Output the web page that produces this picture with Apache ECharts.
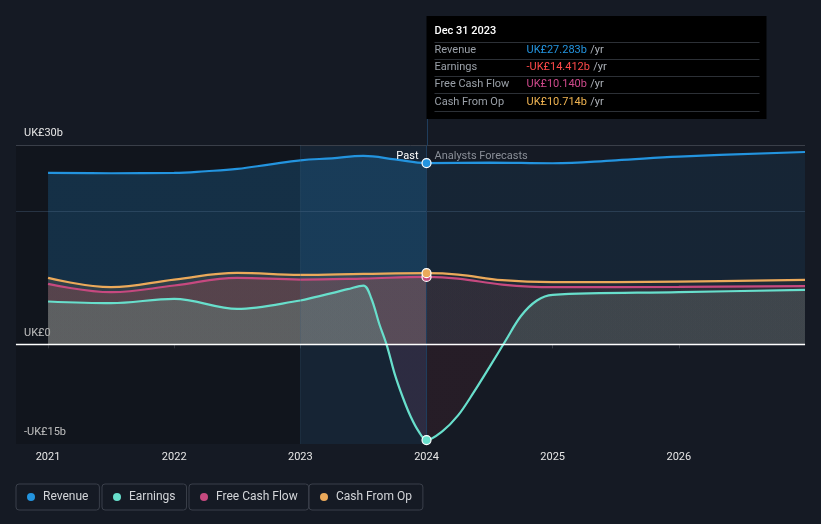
<!DOCTYPE html>
<html><head><meta charset="utf-8">
<script src="https://cdn.jsdelivr.net/npm/echarts@6/dist/echarts.min.js"></script>
<style>html,body{margin:0;padding:0;background:#151a24;}#c{width:821px;height:524px;}</style>
</head><body><div id="c"></div>
<script>
const xTickYears = [2021, 2022, 2023, 2024, 2025, 2026];
const yTickValues = [-15, 0, 30];
const yTickLabels = {'-15': '-UK£15b', '0': 'UK£0', '30': 'UK£30b'};
const gridLineValues = [30, 20];
const seriesNames = ['Revenue', 'Earnings', 'Free Cash Flow', 'Cash From Op'];

const revenue = [[2021,25.8],[2021.5,25.75],[2022,25.8],[2022.25,26.05],[2022.5,26.4],[2022.75,27.05],[2023,27.7],[2023.25,28.0],[2023.5,28.35],[2023.75,27.85],[2024,27.283],[2024.5,27.35],[2025,27.25],[2025.5,27.7],[2026,28.25],[2027,28.95]];
const earnings = [[2021,6.45],[2021.5,6.2],[2022,6.85],[2022.5,5.35],[2023,6.6],[2023.125,7.15],[2023.25,7.7],[2023.375,8.3],[2023.5,8.85],[2023.5625,6.9],[2023.625,3.1],[2023.6875,-0.3],[2023.75,-4.6],[2023.8125,-8.0],[2023.875,-10.9],[2023.9375,-13.1],[2024,-14.412],[2024.125,-13.1],[2024.25,-10.7],[2024.375,-7.2],[2024.5,-3.4],[2024.625,0.5],[2024.75,4.3],[2024.875,6.6],[2025,7.45],[2026,7.85],[2027,8.2]];
const freeCashFlow = [[2021,9.1],[2021.5,7.85],[2022,8.85],[2022.5,10.0],[2023,9.75],[2023.5,9.9],[2024,10.14],[2024.25,9.9],[2024.6,9.0],[2025,8.6],[2026,8.65],[2027,8.75]];
const cashFromOp = [[2021,10.0],[2021.5,8.6],[2022,9.75],[2022.5,10.75],[2023,10.45],[2023.5,10.6],[2024,10.714],[2024.25,10.5],[2024.6,9.65],[2025,9.35],[2026,9.45],[2027,9.7]];

const pastBandStart = 2023;
const presentYear = 2024;
const tooltipTitle = 'Dec 31 2023';
const tooltipLabels = ['Revenue', 'Earnings', 'Free Cash Flow', 'Cash From Op'];
const tooltipValues = ['UK£27.283b', '-UK£14.412b', 'UK£10.140b', 'UK£10.714b'];

const C = {rev: '#2394df', earn: '#68dfcc', fcf: '#c6497f', cfo: '#eba95a'};
const FONT = 'Roboto, "Noto Sans", sans-serif';

function hGrad(data, past, fut) {
  const x0 = data[0][0], x1 = data[data.length - 1][0];
  const f = (presentYear - x0) / (x1 - x0);
  return new echarts.graphic.LinearGradient(0, 0, 1, 0, [
    {offset: 0, color: past}, {offset: f, color: past}, {offset: f, color: fut}, {offset: 1, color: fut}]);
}
function vGrad(data, pos, neg) {
  const ys = data.map(d => d[1]);
  const mx = Math.max(0, ...ys), mn = Math.min(0, ...ys);
  const f = mx / (mx - mn);
  return new echarts.graphic.LinearGradient(0, 0, 0, 1, [
    {offset: 0, color: pos}, {offset: f, color: pos}, {offset: f, color: neg}, {offset: 1, color: neg}]);
}
function valAt(data, x) { const p = data.find(d => d[0] === x); return p ? p[1] : null; }
function markerItem(data, color) {
  return {coord: [presentYear, valAt(data, presentYear)], itemStyle: {color: color, borderColor: '#ffffff', borderWidth: 1.2}};
}

const earnPast = earnings.filter(d => d[0] <= presentYear);
const earnFut = earnings.filter(d => d[0] >= presentYear);

const chart = echarts.init(document.getElementById('c'), null, {renderer: 'canvas'});
const lineBase = {type: 'line', smooth: 0.4, showSymbol: false, symbol: 'none', animation: false, z: 2};
const earnSmooth = 0.35;

chart.setOption({
  backgroundColor: '#151a24',
  animation: false,
  grid: {left: 16, right: 16, top: 145, bottom: 80, containLabel: false},
  xAxis: {
    type: 'value', min: 2020.746, max: 2027,
    axisLine: {show: true, lineStyle: {color: '#3b404a', width: 1}},
    axisTick: {show: true, length: 4, lineStyle: {color: '#3b404a'}, customValues: xTickYears},
    axisLabel: {color: '#e6e6e6', fontSize: 11, fontFamily: FONT, margin: 8, customValues: xTickYears, formatter: v => String(v)},
    splitLine: {show: false}
  },
  yAxis: {
    type: 'value', min: -15, max: 30,
    axisLine: {show: false}, axisTick: {show: false}, splitLine: {show: false},
    axisLabel: {inside: true, margin: 8, color: '#e6e6e6', fontSize: 11, fontFamily: FONT,
      verticalAlign: 'bottom', padding: [0, 0, 6, 0], customValues: yTickValues,
      formatter: v => yTickLabels[String(v)]}
  },
  legend: seriesNames.map((n, i) => ({
    data: [n], left: [16, 102, 189, 309][i], top: 484, icon: 'circle', itemWidth: 8, itemHeight: 8,
    padding: [7, 11, 7, 11], borderColor: '#3a3f4a', borderWidth: 1, borderRadius: 3,
    selectedMode: false,
    textStyle: {color: '#d3d5d9', fontSize: 12, fontFamily: FONT, padding: [0, 0, 0, 3]}
  })),
  series: [
    {type: 'line', data: [], z: 1, silent: true,
      markArea: {silent: true, data: [
        [{xAxis: 2020.746, itemStyle: {color: 'rgba(0,0,0,0.18)'}}, {xAxis: pastBandStart}],
        [{xAxis: pastBandStart, itemStyle: {color: 'rgba(35,148,223,0.09)'}}, {xAxis: presentYear}]
      ]},
      markLine: {silent: true, symbol: 'none', label: {show: false}, data: [
        ...gridLineValues.map(v => ({yAxis: v, lineStyle: {color: v === 30 ? '#3a3f49' : 'rgba(80,110,140,0.35)', width: 1, type: 'solid'}})),
        {xAxis: pastBandStart, lineStyle: {color: 'rgba(60,90,120,0.25)', width: 1, type: 'solid'}},
        {xAxis: presentYear, lineStyle: {color: '#1f3d5c', width: 1, type: 'solid'}}
      ]}
    },
    Object.assign({}, lineBase, {name: 'Revenue', data: revenue, color: C.rev,
      lineStyle: {color: C.rev, width: 2.2},
      areaStyle: {color: hGrad(revenue, 'rgba(35,148,223,0.30)', 'rgba(35,148,223,0.13)')}}),
    Object.assign({}, lineBase, {name: 'Cash From Op', data: cashFromOp, color: C.cfo,
      lineStyle: {color: C.cfo, width: 2.2},
      areaStyle: {color: hGrad(cashFromOp, 'rgba(235,169,90,0.18)', 'rgba(235,169,90,0.06)')}}),
    Object.assign({}, lineBase, {name: 'EarningsPastArea', data: earnPast, smooth: earnSmooth, lineStyle: {width: 0}, silent: true,
      areaStyle: {color: vGrad(earnPast, 'rgba(90,232,201,0.30)', 'rgba(187,92,148,0.20)')}}),
    Object.assign({}, lineBase, {name: 'EarningsFutureArea', data: earnFut, smooth: earnSmooth, lineStyle: {width: 0}, silent: true,
      areaStyle: {color: vGrad(earnFut, 'rgba(150,230,200,0.20)', 'rgba(255,66,76,0.10)')}}),
    Object.assign({}, lineBase, {name: 'Earnings', data: earnings, smooth: earnSmooth, color: C.earn,
      lineStyle: {color: C.earn, width: 2.2}}),
    Object.assign({}, lineBase, {name: 'Free Cash Flow', data: freeCashFlow, color: C.fcf,
      lineStyle: {color: C.fcf, width: 2.2},
      areaStyle: {color: hGrad(freeCashFlow, 'rgba(227,82,88,0.30)', 'rgba(227,82,88,0.12)')}}),
    {type: 'line', data: [], z: 3, silent: true,
      markLine: {silent: true, symbol: 'none', label: {show: false}, data: [
        {yAxis: 0, lineStyle: {color: '#ffffff', width: 1.3, type: 'solid'}}]},
      markPoint: {symbol: 'circle', symbolSize: 9, silent: true, label: {show: false}, data: [
        markerItem(earnings, C.earn), markerItem(revenue, C.rev),
        markerItem(freeCashFlow, C.fcf), markerItem(cashFromOp, C.cfo)]}}
  ]
});

const p = chart.convertToPixel({xAxisIndex: 0, yAxisIndex: 0}, [presentYear, 30]);
const px = Math.round(p[0]) + 0.5, gridTop = p[1];
const boxTop = 16, boxW = 340;
const g = [
  {type: 'rect', shape: {x: px - 1, y: boxTop, width: boxW, height: 103}, style: {fill: '#000000'}, z: 10},
  {type: 'line', shape: {x1: px, y1: boxTop + 103, x2: px, y2: gridTop}, style: {stroke: '#1f3d5c', lineWidth: 1}, z: 10},
  {type: 'text', x: px + 7, y: boxTop + 15.5, z: 11, style: {text: tooltipTitle, fill: '#ffffff', font: '500 11px ' + FONT, verticalAlign: 'middle'}},
  {type: 'text', x: px - 9, y: gridTop + 11.5, z: 11, style: {text: 'Past', fill: '#ffffff', font: '11px ' + FONT, align: 'right', verticalAlign: 'middle'}},
  {type: 'text', x: px + 7, y: gridTop + 11.5, z: 11, style: {text: 'Analysts Forecasts', fill: '#8a8f98', font: '11px ' + FONT, verticalAlign: 'middle'}}
];
const valColors = [C.rev, '#ff4a4a', '#cf4a8c', '#f0b452'];
for (let i = 0; i <= tooltipLabels.length; i++) {
  const ly = Math.round(boxTop + 25.5 + i * 17.3) + 0.5;
  g.push({type: 'line', shape: {x1: px + 7, y1: ly, x2: px + 332, y2: ly}, style: {stroke: '#2c3036', lineWidth: 1}, z: 11});
}
tooltipLabels.forEach((lab, i) => {
  const cy = boxTop + 34 + i * 17.3;
  g.push({type: 'text', x: px + 7, y: cy, z: 11, style: {text: lab, fill: '#9aa0a8', font: '11px ' + FONT, verticalAlign: 'middle'}});
  g.push({type: 'text', x: px + 99, y: cy, z: 11, style: {
    text: '{v|' + tooltipValues[i] + '} {u|/yr}', verticalAlign: 'middle',
    rich: {v: {fill: valColors[i], font: '11px ' + FONT}, u: {fill: '#aeb3ba', font: '11px ' + FONT}}}});
});
chart.setOption({graphic: g});
</script></body></html>
